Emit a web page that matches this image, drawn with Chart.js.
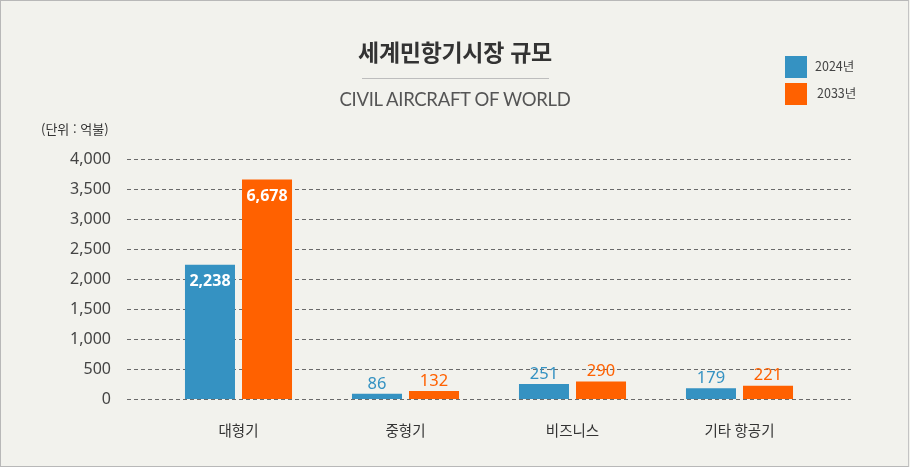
<!DOCTYPE html>
<html lang="ko">
<head>
<meta charset="utf-8">
<script src="https://cdn.jsdelivr.net/npm/chart.js@4.4.1/dist/chart.umd.min.js"></script>
<style>
  html, body { margin: 0; padding: 0; background: #f2f2ed; }
  body { width: 910px; height: 467px; position: relative; overflow: hidden; font-family: "Noto Sans CJK KR", "Noto Sans", sans-serif; }
  #frame { position: absolute; left: 0; top: 0; width: 909px; height: 467px; box-sizing: border-box; border: 1px solid #b8b8b8; border-right-color: #c4c4c4; }
  #c { position: absolute; left: 0; top: 0; }
  .t { position: absolute; white-space: nowrap; line-height: 1; }
  #title { left: 0; width: 910px; text-align: center; top: 40px; font-size: 23px; font-weight: bold; color: #333; letter-spacing: -0.3px; }
  #sep { position: absolute; left: 362px; top: 78px; width: 187px; height: 1px; background: #bdbdbd; }
  #sub { left: 0; width: 910px; text-align: center; top: 90px; font-family: Lato, "Noto Sans", sans-serif; font-size: 18.5px; color: #555; letter-spacing: -0.3px; }
  #unit { left: 41px; top: 122px; font-size: 13px; color: #333; }
  .sw { position: absolute; width: 22px; height: 22px; }
  .lg { font-size: 12.5px; color: #444; }
</style>
</head>
<body>
<div id="frame"></div>
<canvas id="c" width="910" height="467"></canvas>
<div class="t" id="title">세계민항기시장 규모</div>
<div id="sep"></div>
<div class="t" id="sub">CIVIL AIRCRAFT OF WORLD</div>
<div class="t" id="unit">(단위 : 억불)</div>
<div class="sw" style="left:785px;top:56px;background:#3592c2"></div>
<div class="t lg" id="lg1" style="left:815px;top:60px">2024년</div>
<div class="sw" style="left:785px;top:83px;background:#ff6100"></div>
<div class="t lg" id="lg2" style="left:817px;top:87px">2033년</div>
<script>
const categories = ['대형기', '중형기', '비즈니스', '기타 항공기'];
const seriesNames = ['2024년', '2033년'];
const values2024 = [2238, 86, 251, 179];
const values2033 = [6678, 132, 290, 221];
const yTicks = [0, 500, 1000, 1500, 2000, 2500, 3000, 3500, 4000];
const barCap = 3660; // the reference truncates bars taller than this (axis break)

const colors = ['#3592c2', '#ff6100'];

const gridPlugin = {
  id: 'extGrid',
  beforeDatasetsDraw(chart) {
    const ctx = chart.ctx;
    const y = chart.scales.y;
    ctx.save();
    ctx.strokeStyle = '#6a6a6a';
    ctx.lineWidth = 1;
    ctx.setLineDash([4, 3]);
    yTicks.forEach(v => {
      const py = Math.round(y.getPixelForValue(v)) + 0.5;
      ctx.beginPath();
      ctx.moveTo(127, py);
      ctx.lineTo(851, py);
      ctx.stroke();
    });
    ctx.restore();
  }
};

const labelPlugin = {
  id: 'valueLabels',
  afterDatasetsDraw(chart) {
    const ctx = chart.ctx;
    ctx.save();
    ctx.textAlign = 'center';
    ctx.textBaseline = 'middle';
    chart.data.datasets.forEach((ds, di) => {
      const meta = chart.getDatasetMeta(di);
      meta.data.forEach((bar, i) => {
        const v = ds.labelValues[i];
        const txt = v.toLocaleString('en-US');
        if (i === 0) {
          ctx.font = 'bold 16px "Noto Sans", "Noto Sans CJK KR", sans-serif';
          ctx.fillStyle = '#ffffff';
          ctx.fillText(txt, bar.x, bar.y + 17);
        } else {
          ctx.font = '16.5px "Noto Sans", "Noto Sans CJK KR", sans-serif';
          ctx.fillStyle = colors[di];
          ctx.fillText(txt, bar.x, bar.y - 10);
        }
      });
    });
    ctx.restore();
  }
};

new Chart(document.getElementById('c'), {
  type: 'bar',
  data: {
    labels: categories,
    datasets: [
      { label: seriesNames[0], data: values2024.map(v => Math.min(v, barCap)), labelValues: values2024, backgroundColor: colors[0], categoryPercentage: 0.683, barPercentage: 0.877 },
      { label: seriesNames[1], data: values2033.map(v => Math.min(v, barCap)), labelValues: values2033, backgroundColor: colors[1], categoryPercentage: 0.683, barPercentage: 0.877 }
    ]
  },
  options: {
    responsive: false,
    animation: false,
    layout: { padding: { top: 159, right: 87, bottom: 0, left: 0 } },
    plugins: { legend: { display: false }, tooltip: { enabled: false }, title: { display: false } },
    scales: {
      x: {
        grid: { display: false, drawTicks: false },
        border: { display: false },
        ticks: { color: '#333', font: { family: '"Noto Sans CJK KR", sans-serif', size: 14.5 }, padding: 23 },
        afterFit(s) { s.height = 68; }
      },
      y: {
        min: 0, max: 4000,
        afterBuildTicks(s) { s.ticks = yTicks.map(v => ({ value: v })); },
        grid: { display: false, drawTicks: false },
        border: { display: false },
        ticks: { color: '#444', font: { family: '"Noto Sans", sans-serif', size: 16 }, padding: 44, callback: v => Number(v).toLocaleString('en-US') },
        afterFit(s) { s.width = 155; }
      }
    }
  },
  plugins: [gridPlugin, labelPlugin]
});
</script>
</body>
</html>
